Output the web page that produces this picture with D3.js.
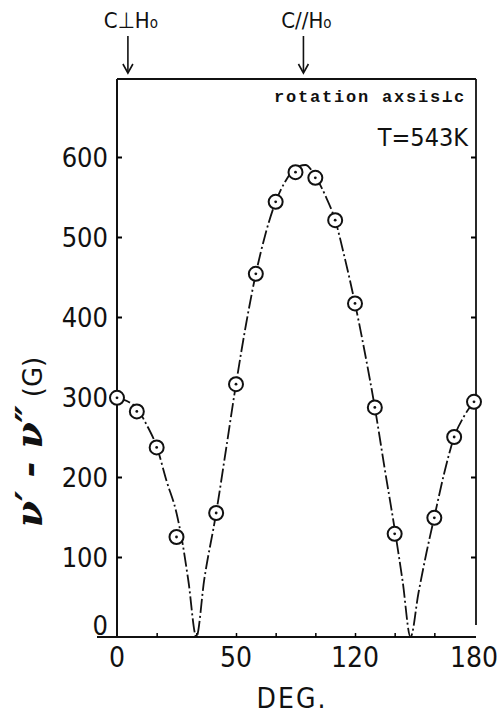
<!DOCTYPE html>
<meta charset="utf-8">
<script src="https://cdn.jsdelivr.net/npm/d3@7"></script>
<style>
  body { margin: 0; background: #fff; }
  .tick-label { font-family: "DejaVu Sans", sans-serif; font-stretch: condensed; fill: #111; }
  .mono { font-family: "Liberation Mono", "DejaVu Sans Mono", monospace; fill: #111; }
</style>
<body>
<svg class="chart"></svg>
<script>
  ///////////////////////
  // Data
  // measured points: rotation angle (deg) vs splitting v' - v'' (G)
  var degrees   = [0, 10, 20, 30, 50, 60, 70, 80, 90, 100, 110, 120, 130, 140, 160, 170, 180];
  var splitting = [299, 282, 237, 125, 155, 316, 454, 544, 581, 574, 521, 417, 287, 129, 149, 250, 294];

  // hand drawn guide curve through the points
  var curveDeg = [0, 5, 10, 15, 20, 25, 30, 33, 36, 40, 44, 50, 55, 60, 65, 70, 75, 80, 85, 90, 95,
                  100, 105, 110, 115, 120, 125, 130, 135, 140, 144, 148, 152, 156, 160, 165, 170, 175, 180];
  var curveVal = [299, 295, 286, 265, 238, 195, 155, 118, 70, 0, 72, 155, 235, 316, 390, 454, 505, 544, 570, 586, 590,
                  576, 552, 521, 472, 417, 355, 287, 210, 135, 70, 0, 55, 105, 150, 205, 250, 276, 294];

  var yTicks = [0, 100, 200, 300, 400, 500, 600];
  var xTickPos = [0, 60, 120, 180];
  var xTickText = ["0", "50", "120", "180"];   // printed as in the original
  var xMinor = [20, 40, 60, 80, 100, 120, 140, 160];

  var markers = [
    { deg: 5.5, label: "C\u22A5H" },
    { deg: 94, label: "C//H" }
  ];

  ///////////////////////
  // Chart Size Setup
  var svg = d3.select(".chart")
      .attr("width", 498)
      .attr("height", 725);

  var pLeft = 117, pRight = 476, pTop = 79, pBottom = 637;

  var x = d3.scaleLinear().domain([0, 180]).range([pLeft, pRight - 2]);
  var y = d3.scaleLinear().domain([0, 600]).range([pBottom, 157]);

  ///////////////////////
  // Frame
  var frame = svg.append("g").attr("stroke", "#111").attr("fill", "none");
  frame.append("line").attr("x1", pLeft).attr("x2", pLeft).attr("y1", pTop).attr("y2", pBottom).attr("stroke-width", 2);
  frame.append("line").attr("x1", pRight).attr("x2", pRight).attr("y1", pTop).attr("y2", pBottom - 12).attr("stroke-width", 1.8);
  frame.append("line").attr("x1", pLeft).attr("x2", pRight).attr("y1", pTop).attr("y2", pTop).attr("stroke-width", 2.2);
  frame.append("line").attr("x1", 97).attr("x2", pRight).attr("y1", pBottom).attr("y2", pBottom).attr("stroke-width", 2.2);

  ///////////////////////
  // Axis (ticks pointing inside)
  var yAxisL = d3.axisRight(y).tickValues(yTicks.slice(1)).tickSize(5).tickFormat("");
  var yAxisR = d3.axisLeft(y).tickValues(yTicks.slice(1)).tickSize(5).tickFormat("");
  svg.append("g").attr("transform", "translate(" + pLeft + ",0)").call(yAxisL)
    .call(function(g) { g.select(".domain").remove(); g.selectAll("line").attr("stroke-width", 2); });
  svg.append("g").attr("transform", "translate(" + pRight + ",0)").call(yAxisR)
    .call(function(g) { g.select(".domain").remove(); g.selectAll("line").attr("stroke-width", 2); });

  var xAxisMinor = d3.axisTop(x).tickValues(xMinor).tickSize(4).tickFormat("");
  svg.append("g").attr("transform", "translate(0," + pBottom + ")").call(xAxisMinor)
    .call(function(g) { g.select(".domain").remove(); g.selectAll("line").attr("stroke-width", 1.5); });

  // y tick labels
  svg.append("g").selectAll("text")
    .data(yTicks)
    .enter().append("text")
    .attr("class", "tick-label")
    .attr("x", 108)
    .attr("y", function(d) { return d === 0 ? y(d) - 2 : y(d) + 10; })
    .attr("text-anchor", "end")
    .attr("font-size", 27)
    .text(function(d) { return d; });

  // x tick labels
  svg.append("g").selectAll("text")
    .data(xTickPos)
    .enter().append("text")
    .attr("class", "tick-label")
    .attr("x", function(d) { return x(d); })
    .attr("y", 667)
    .attr("text-anchor", "middle")
    .attr("font-size", 28)
    .text(function(d, i) { return xTickText[i]; });

  ///////////////////////
  // Titles
  svg.append("text")
    .attr("class", "tick-label")
    .attr("x", 292)
    .attr("y", 708)
    .attr("text-anchor", "middle")
    .attr("font-size", 28)
    .attr("letter-spacing", 2)
    .text("DEG.");

  var yt = svg.append("text")
    .attr("transform", "translate(42,442) rotate(-90)")
    .attr("text-anchor", "middle")
    .attr("font-family", "DejaVu Serif, serif")
    .attr("fill", "#111");
  yt.append("tspan").attr("font-size", 38).attr("font-weight", "bold").attr("font-style", "italic").text("\u03BD\u2032 - \u03BD\u2033");
  yt.append("tspan").attr("font-size", 26).attr("font-family", "DejaVu Sans, sans-serif").attr("dx", 8).text("(G)");

  svg.append("text")
    .attr("class", "mono")
    .attr("x", 466)
    .attr("y", 102)
    .attr("text-anchor", "end")
    .attr("font-size", 17)
    .attr("font-weight", "bold")
    .attr("letter-spacing", 1.8)
    .text("rotation axsis\u22A5c");

  svg.append("text")
    .attr("class", "tick-label")
    .attr("x", 468)
    .attr("y", 146)
    .attr("text-anchor", "end")
    .attr("font-size", 25)
    .text("T=543K");

  ///////////////////////
  // Top markers with arrows
  var mk = svg.append("g").selectAll("g")
    .data(markers)
    .enter().append("g")
    .attr("transform", function(d) { return "translate(" + x(d.deg) + ",0)"; });

  mk.append("text")
    .attr("class", "tick-label")
    .attr("x", 3)
    .attr("y", 28)
    .attr("text-anchor", "middle")
    .attr("font-size", 22)
    .text(function(d) { return d.label; })
    .append("tspan").attr("font-size", 15).text("o");

  mk.append("line")
    .attr("x1", 0).attr("x2", 0).attr("y1", 36).attr("y2", 72)
    .attr("stroke", "#111").attr("stroke-width", 1.6);
  mk.append("path")
    .attr("d", "M-5,64 L0,73 L5,64")
    .attr("fill", "none").attr("stroke", "#111").attr("stroke-width", 1.6);

  ///////////////////////
  // Curve
  var curveData = curveDeg.map(function(d, i) { return { deg: d, val: curveVal[i] }; });
  var line = d3.line()
    .x(function(d) { return x(d.deg); })
    .y(function(d) { return y(d.val); })
    .curve(d3.curveMonotoneX);

  svg.append("path")
    .datum(curveData)
    .attr("fill", "none")
    .attr("stroke", "#111")
    .attr("stroke-width", 1.8)
    .attr("stroke-dasharray", "14,3,2,3")
    .attr("d", line);

  ///////////////////////
  // Nodes
  var pts = degrees.map(function(d, i) { return { deg: d, val: splitting[i] }; });
  var node = svg.append("g").selectAll("g")
    .data(pts)
    .enter().append("g")
    .attr("transform", function(d) { return "translate(" + x(d.deg) + "," + y(d.val) + ")"; });

  node.append("circle")
    .attr("r", 7)
    .attr("fill", "#fff")
    .attr("stroke", "#111")
    .attr("stroke-width", 2);
  node.append("circle")
    .attr("r", 1.4)
    .attr("fill", "#111");
</script>
</body>
